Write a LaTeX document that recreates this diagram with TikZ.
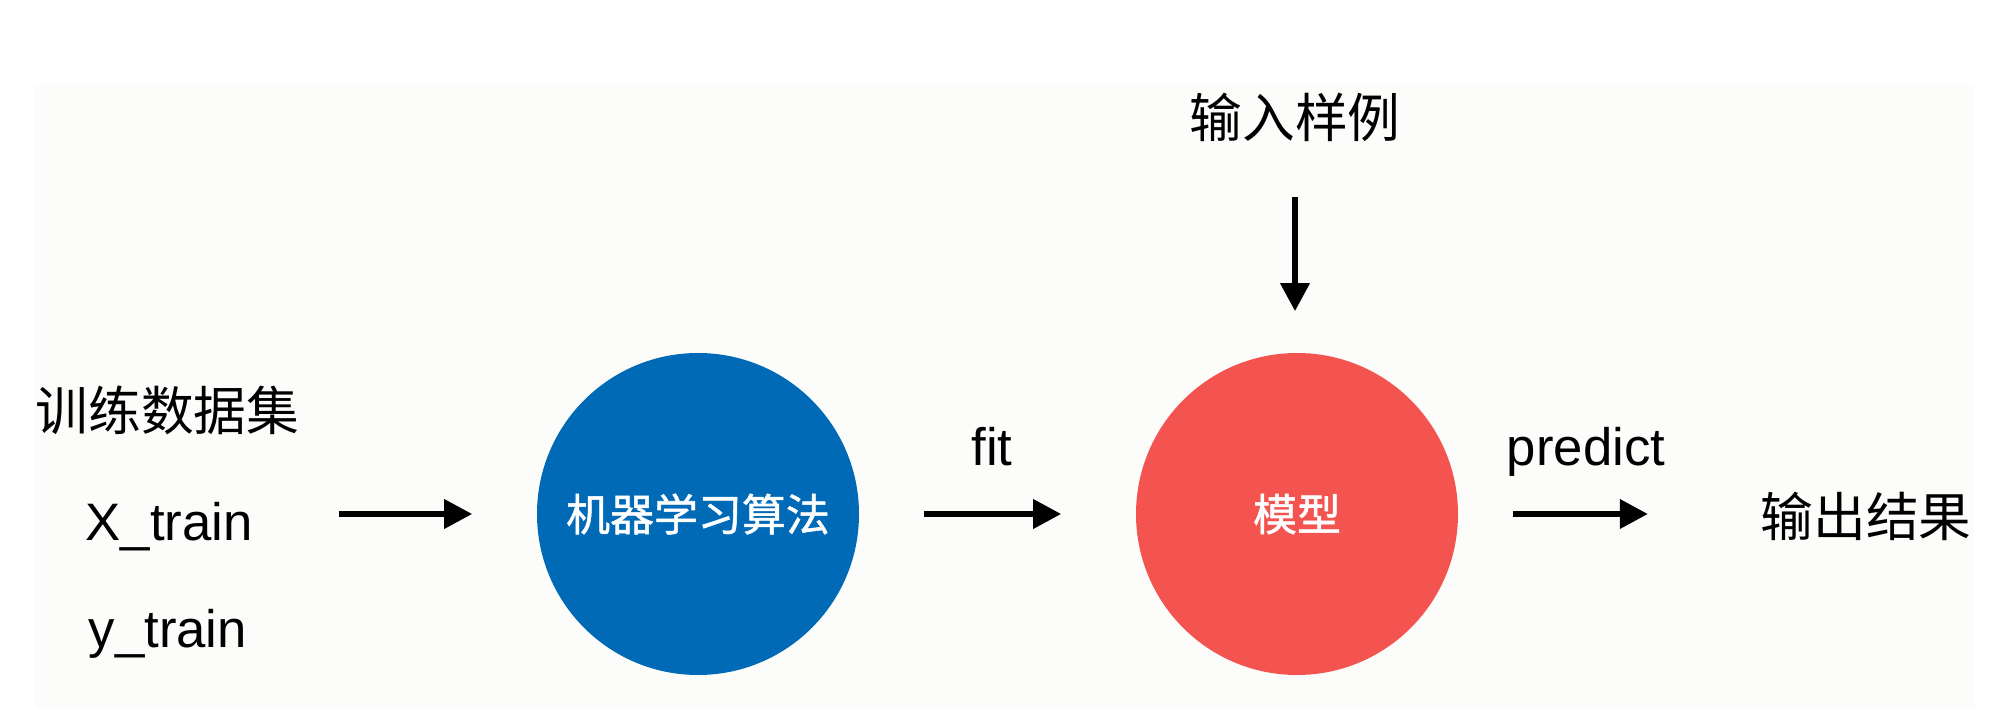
\documentclass[tikz,border=0pt]{standalone}
\usepackage{fontspec}
\setmainfont{Liberation Sans}
\newfontfamily\cjk{Noto Sans CJK SC}
\newfontfamily\cjkb[FakeBold=1.2]{Noto Sans CJK SC}
\usetikzlibrary{arrows.meta}
\definecolor{sea}{RGB}{0,106,183}
\definecolor{coral}{RGB}{243,84,80}
\definecolor{paper}{RGB}{252,252,250}

\begin{document}
\begin{tikzpicture}[x=1cm,y=1cm,font=\fontsize{15}{18}\selectfont,
    lbl/.style={inner sep=0pt},
    blob/.style={circle,minimum size=3.22cm,inner sep=0pt,text=white,font=\cjkb\fontsize{12.5}{15}\selectfont},
    flow/.style={line width=1.8pt,-{Triangle[length=8pt,width=8pt]}}]
  \useasboundingbox (0,0) rectangle (19.97,7.27);
  \fill[paper] (0.35,0.19) rectangle (19.74,6.42);
  \node[lbl,anchor=west,font=\cjk\fontsize{15}{18}\selectfont] (train) at (0.35,3.17) {训练数据集};
  \node[lbl,anchor=base west] (xtrain) at (0.85,1.87) {X\_train};
  \node[lbl,anchor=base west] (ytrain) at (0.88,0.80) {y\_train};
  \node[blob,fill=sea] (algo) at (6.98,2.13) {机器学习算法};
  \node[blob,fill=coral] (model) at (12.97,2.13) {模型};
  \node[lbl,anchor=base] (fit) at (9.92,2.62) {fit};
  \node[lbl,anchor=base] (predict) at (15.86,2.62) {predict};
  \node[lbl,font=\cjk\fontsize{15}{18}\selectfont] (input) at (12.95,6.10) {输入样例};
  \node[lbl,anchor=west,font=\cjk\fontsize{15}{18}\selectfont] (output) at (17.60,2.11) {输出结果};
  \draw[flow,shorten <=0.86cm,shorten >=0.64cm] (xtrain.east |- algo) -- (algo.west);
  \draw[flow,shorten <=0.64cm,shorten >=0.74cm] (algo.east) -- (model.west);
  \draw[flow,shorten <=0.54cm,shorten >=1.12cm] (model.east) -- (output.west |- model);
  \draw[flow,shorten <=0.55cm,shorten >=0.41cm] (input.south) -- (model.north -| input.south);
\end{tikzpicture}
\end{document}
